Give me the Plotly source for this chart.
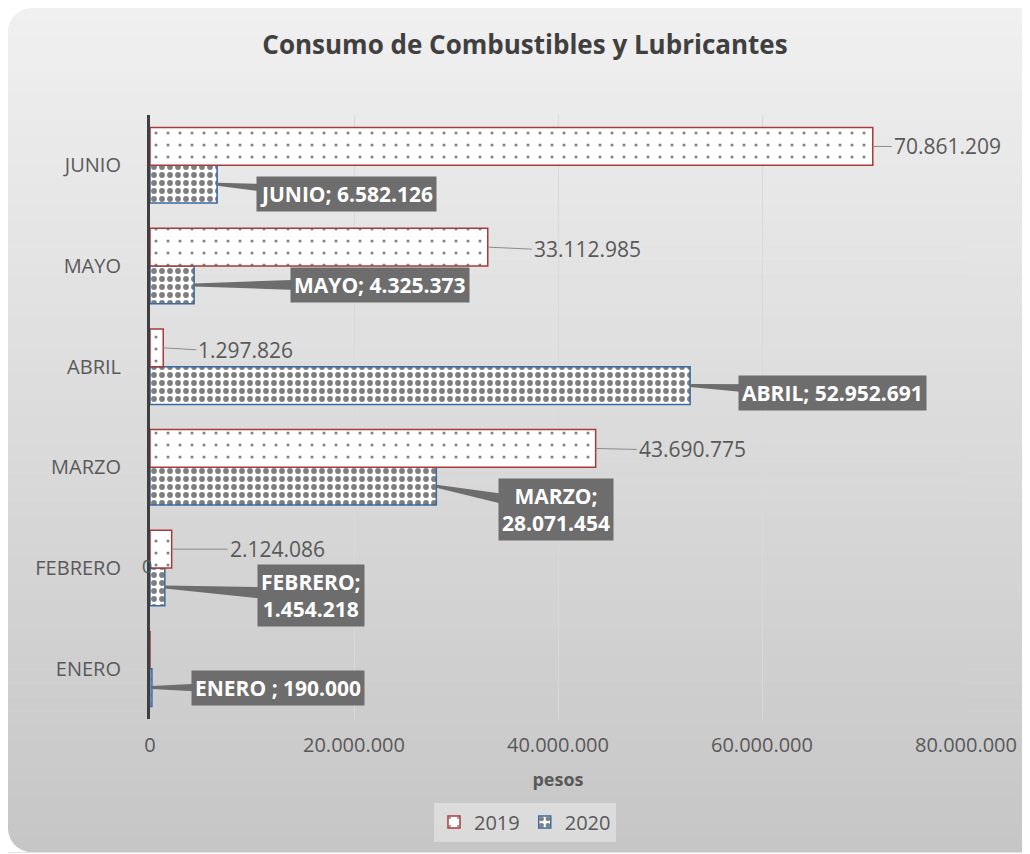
import plotly.graph_objects as go

# ---- data ----
months = ["ENERO", "FEBRERO", "MARZO", "ABRIL", "MAYO", "JUNIO"]
values_2019 = [0, 2124086, 43690775, 1297826, 33112985, 70861209]
values_2020 = [190000, 1454218, 28071454, 52952691, 4325373, 6582126]
labels_2019 = ["0", "2.124.086", "43.690.775", "1.297.826", "33.112.985", "70.861.209"]
labels_2020 = ["ENERO ; 190.000", "FEBRERO;<br>1.454.218", "MARZO;<br>28.071.454",
               "ABRIL; 52.952.691", "MAYO; 4.325.373", "JUNIO; 6.582.126"]
x_ticks = [0, 20000000, 40000000, 60000000, 80000000]
x_ticktext = ["0", "20.000.000", "40.000.000", "60.000.000", "80.000.000"]

# ---- layout geometry (pixels, figure coords; page has an 8px body margin) ----
W, H = 1022, 846
ML, MR, MT, MB = 142, 64, 107, 135
PW, PH = W - ML - MR, H - MT - MB
XMAX = 80000000
PX_PER_X = PW / XMAX
PX_PER_CAT = PH / len(months)
OFF = 0.1875  # half of group shift

# label offsets (pixels from bar end / bar center)
off2019 = [(-3, -84), (61, 0), (46, 1), (38, 2), (49, 2), (24, 0)]
off2020 = [(126, 0), (146, 9), (120, 23), (142, 7), (186, 0), (129, 10)]

FONT = "Open Sans"
fig = go.Figure()

fig.add_trace(go.Bar(
    name="2020", y=months, x=values_2020, orientation="h",
    marker=dict(color="white", line=dict(color="#3a6aa3", width=1.5),
                pattern=dict(shape=".", size=8, solidity=0.42, fgcolor="black", bgcolor="white")),
    legendrank=2, hoverinfo="skip"))
fig.add_trace(go.Bar(
    name="2019", y=months, x=values_2019, orientation="h",
    marker=dict(color="white", line=dict(color="#a83a3a", width=1.5),
                pattern=dict(shape=".", size=12, solidity=0.05, fgcolor="black", bgcolor="white")),
    legendrank=1, hoverinfo="skip"))

annotations = []
# 2020 callouts: wedge + box
for i, (v, t) in enumerate(zip(values_2020, labels_2020)):
    dx, dy = off2020[i]
    yc = i - OFF
    bx = v + dx / PX_PER_X
    wedge_x = [v, bx, bx, v]
    wedge_y = [yc + 1.5 / PX_PER_CAT, yc - (dy - 8) / PX_PER_CAT,
               yc - (dy + 8) / PX_PER_CAT, yc - 1.5 / PX_PER_CAT]
    fig.add_trace(go.Scatter(x=wedge_x, y=wedge_y, yaxis="y2", fill="toself",
                             fillcolor="#6d6d6d", line=dict(width=0), mode="lines",
                             showlegend=False, hoverinfo="skip"))
    annotations.append(dict(
        x=bx, y=yc - dy / PX_PER_CAT, xref="x", yref="y2", text="<b>%s</b>" % t,
        showarrow=False, bgcolor="#6d6d6d", borderpad=3,
        font=dict(family=FONT, size=21, color="white"), align="center"))

# 2019 labels with leader lines
for i, (v, t) in enumerate(zip(values_2019, labels_2019)):
    dx, dy = off2019[i]
    yc = i + OFF
    if v == 0:
        annotations.append(dict(x=v, y=yc - dy / PX_PER_CAT, xref="x", yref="y2",
                                xshift=dx, text=t, showarrow=False,
                                font=dict(family=FONT, size=18, color="#595959")))
        continue
    annotations.append(dict(
        x=v, y=yc, xref="x", yref="y2", text=t, showarrow=True, arrowhead=0,
        arrowwidth=1, arrowcolor="#8c8c8c", ax=dx - 5, ay=dy, xanchor="left",
        borderpad=1, font=dict(family=FONT, size=21, color="#595959")))

# ---- background: rounded gradient panel ----
def px2p(px, py):
    return (px - ML) / PW, (H - MB - py) / PH

shapes = []
x0, y0, x1, y1 = 0, 0, 1040, 844
n = 60
c_top, c_bot = 240, 198
for k in range(n):
    ya = y0 + (y1 - y0) * k / n
    yb = y0 + (y1 - y0) * (k + 1) / n + 0.5
    c = round(c_top + (c_bot - c_top) * (k + 0.5) / n)
    pa = px2p(x0, ya); pb = px2p(x1, yb)
    shapes.append(dict(type="rect", xref="paper", yref="paper", x0=pa[0], x1=pb[0],
                       y0=pb[1], y1=pa[1], fillcolor="rgb(%d,%d,%d)" % (c, c, c),
                       line=dict(width=0), layer="below"))
r = 24
kk = 0.5523
def corner(cx, cy, sx, sy):
    pts = [(cx, cy), (cx + sx * r, cy), (cx + sx * r * (1 - kk), cy),
           (cx, cy + sy * r * (1 - kk)), (cx, cy + sy * r)]
    p = [px2p(a, b) for a, b in pts]
    return "M %f %f L %f %f C %f %f %f %f %f %f Z" % (p[0] + p[1] + p[2] + p[3] + p[4])
for (cx, cy, sx, sy) in [(x0, y0, 1, 1), (x0, y1, 1, -1)]:
    shapes.append(dict(type="path", xref="paper", yref="paper", path=corner(cx, cy, sx, sy),
                       fillcolor="white", line=dict(width=0), layer="below"))

fig.update_layout(
    width=W, height=H, margin=dict(l=ML, r=MR, t=MT, b=MB),
    paper_bgcolor="white", plot_bgcolor="#c0c0c0",
    barmode="group", bargap=0.25, bargroupgap=0,
    title=dict(text="<b>Consumo de Combustibles y Lubricantes</b>", x=517 / W, xanchor="center",
               y=1 - 37 / H, yanchor="middle", font=dict(family=FONT, size=26, color="#404040")),
    xaxis=dict(range=[0, XMAX], tickvals=x_ticks, ticktext=x_ticktext, showgrid=True,
               gridcolor="#d9d9d9", gridwidth=1, zeroline=False, showline=False,
               tickfont=dict(family=FONT, size=20, color="#595959"), ticks="",
               ticklabelstandoff=12,
               title=dict(text="<b>pesos</b>", font=dict(family=FONT, size=18, color="#595959"),
                          standoff=16)),
    yaxis=dict(type="category", categoryarray=months, categoryorder="array",
               range=[-0.5, len(months) - 0.5], showgrid=False, showline=True,
               linecolor="#3f3f3f", linewidth=3, ticks="", ticklabelstandoff=22,
               tickfont=dict(family=FONT, size=20, color="#595959")),
    yaxis2=dict(overlaying="y", range=[-0.5, len(months) - 0.5], visible=False),
    legend=dict(orientation="h", x=(517 - ML) / PW, xanchor="center", y=-(814 - (H - MB)) / PH,
                yanchor="middle", bgcolor="rgba(228,228,228,0.7)",
                font=dict(family=FONT, size=20, color="#595959"), traceorder="normal"),
    shapes=shapes, annotations=annotations, showlegend=True,
)

fig.write_html("out.html")
